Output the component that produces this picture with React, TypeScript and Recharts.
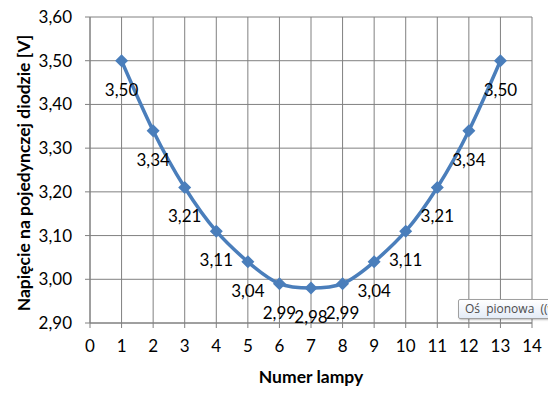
import { LineChart, Line, XAxis, YAxis, CartesianGrid, LabelList } from 'recharts';

const lampy = [1, 2, 3, 4, 5, 6, 7, 8, 9, 10, 11, 12, 13];
const napiecie = [3.5, 3.34, 3.21, 3.11, 3.04, 2.99, 2.98, 2.99, 3.04, 3.11, 3.21, 3.34, 3.5];
const xTicks = [0, 1, 2, 3, 4, 5, 6, 7, 8, 9, 10, 11, 12, 13, 14];
const yTicks = [2.9, 3.0, 3.1, 3.2, 3.3, 3.4, 3.5, 3.6];
const xTitle = 'Numer lampy';
const yTitle = 'Napięcie na pojedynczej diodzie [V]';

const data = lampy.map((n, i) => ({ lampa: n, u: napiecie[i] }));

const FONT = 'Lato, "Open Sans", sans-serif';
const BLUE = '#4a7ebb';
const GRID = '#808080';

const pl = (v: number) => v.toFixed(2).replace('.', ',');

function Diamond(props: any) {
  const { cx, cy } = props;
  if (cx == null || cy == null) return null;
  const r = 6.5;
  return (
    <polygon
      points={`${cx},${cy - r} ${cx + r},${cy} ${cx},${cy + r} ${cx - r},${cy}`}
      fill={BLUE}
    />
  );
}

function ValueLabel(props: any) {
  const { x, y, value } = props;
  return (
    <text x={x} y={y + 29} dy="0.35em" textAnchor="middle" fontSize={17} fontFamily={FONT} fill="#000">
      {pl(value)}
    </text>
  );
}

export default function App() {
  return (
    <div style={{ position: 'absolute', left: 0, top: 0, width: 548, height: 396, background: '#fff', overflow: 'hidden' }}>
      <LineChart width={548} height={396} data={data} margin={{ top: 17, right: 16, left: 0, bottom: 0 }}>
        <CartesianGrid stroke={GRID} strokeWidth={1} />
        <XAxis
          type="number"
          dataKey="lampa"
          domain={[0, 14]}
          ticks={xTicks}
          interval={0}
          height={73}
          stroke={GRID}
          tickSize={5}
          tickMargin={12}
          tick={{ fill: '#000', fontSize: 17, fontFamily: FONT }}
        />
        <YAxis
          type="number"
          domain={[2.9, 3.6]}
          ticks={yTicks}
          interval={0}
          width={90}
          stroke={GRID}
          tickSize={5}
          tickMargin={13}
          tickFormatter={pl}
          tick={{ fill: '#000', fontSize: 17, fontFamily: FONT }}
        />
        <Line
          type="natural"
          dataKey="u"
          stroke={BLUE}
          strokeWidth={3.5}
          dot={<Diamond />}
          activeDot={false}
          isAnimationActive={false}
        >
          <LabelList dataKey="u" content={<ValueLabel />} />
        </Line>
      </LineChart>
      <svg width={548} height={396} style={{ position: 'absolute', left: 0, top: 0, pointerEvents: 'none' }}>
        <text x={311} y={377} dy="0.35em" textAnchor="middle" fontSize={17.5} fontWeight="bold" fontFamily={FONT} fill="#000">
          {xTitle}
        </text>
        <text
          x={24}
          y={173}
          dy="0.35em"
          textAnchor="middle"
          transform="rotate(-90 24 173)"
          fontSize={17.5}
          fontWeight="bold"
          fontFamily={FONT}
          fill="#000"
        >
          {yTitle}
        </text>
      </svg>
      <div
        style={{
          position: 'absolute',
          left: 458,
          top: 299,
          width: 110,
          height: 18,
          border: '1px solid #a0a0a0',
          borderRadius: 2,
          background: 'linear-gradient(#ffffff, #e4ecf7)',
          boxShadow: '1px 1px 2px rgba(0,0,0,0.25)',
          fontFamily: '"Open Sans", sans-serif',
          fontSize: 12,
          color: '#4c4c4c',
          lineHeight: '18px',
          paddingLeft: 6,
          whiteSpace: 'nowrap',
          wordSpacing: 3,
        }}
      >
        Oś pionowa ((wartości)
      </div>
    </div>
  );
}
